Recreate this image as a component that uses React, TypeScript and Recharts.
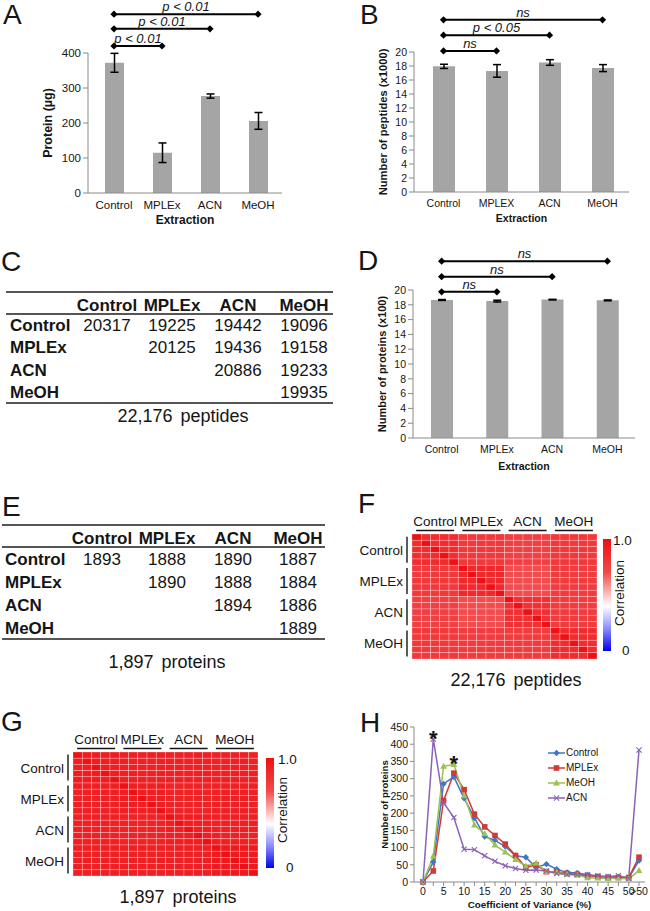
import React from 'react';
import {
  BarChart, Bar, ErrorBar, XAxis, YAxis, ReferenceLine, ReferenceDot,
  LineChart, Line, Legend, ScatterChart, Scatter,
} from 'recharts';

const FONT = '"Liberation Sans", Arial, Helvetica, sans-serif';
const INK = '#151515';
const AXIS = '#8a8a8a';
const BAR = '#a5a5a5';

// A: protein yield per extraction (ug)
const catsA = ['Control', 'MPLEx', 'ACN', 'MeOH'];
const proteinUg = [372, 115, 277, 206];
const proteinUgSd = [27, 28, 6, 24];

// B: identified peptides (x1000)
const catsB = ['Control', 'MPLEX', 'ACN', 'MeOH'];
const peptidesK = [17.95, 17.3, 18.5, 17.7];
const peptidesKSd = [0.3, 0.9, 0.4, 0.5];

// D: identified proteins (x100)
const catsD = ['Control', 'MPLEx', 'ACN', 'MeOH'];
const proteinsH = [18.65, 18.5, 18.7, 18.6];
const proteinsHSd = [0.06, 0.12, 0.04, 0.06];

// significance brackets, all start at Control
const sigA = [
  { to: 'MPLEx', level: 420, text: 'p < 0.01' },
  { to: 'ACN', level: 469, text: 'p < 0.01' },
  { to: 'MeOH', level: 511, text: 'p < 0.01' },
];
const sigB = [
  { to: 'MPLEX', level: 20.15, text: 'ns' },
  { to: 'ACN', level: 22.4, text: 'p < 0.05' },
  { to: 'MeOH', level: 24.6, text: 'ns' },
];
const sigD = [
  { to: 'MPLEx', level: 19.75, text: 'ns' },
  { to: 'ACN', level: 21.8, text: 'ns' },
  { to: 'MeOH', level: 23.9, text: 'ns' },
];

// C / E: pairwise overlap tables
const tableCols = ['Control', 'MPLEx', 'ACN', 'MeOH'];
const peptideOverlap = [
  [20317, 19225, 19442, 19096],
  [null, 20125, 19436, 19158],
  [null, null, 20886, 19233],
  [null, null, null, 19935],
];
const proteinOverlap = [
  [1893, 1888, 1890, 1887],
  [null, 1890, 1888, 1884],
  [null, null, 1894, 1886],
  [null, null, null, 1889],
];

// F / G: correlation between extraction groups (5 replicates each)
const groups = ['Control', 'MPLEx', 'ACN', 'MeOH'];
const replicates = 5;
const peptideCorr = [
  [0.93, 0.9, 0.88, 0.9],
  [0.9, 0.94, 0.85, 0.89],
  [0.88, 0.85, 0.92, 0.89],
  [0.9, 0.89, 0.89, 0.93],
];
const proteinCorr = [
  [0.97, 0.96, 0.96, 0.96],
  [0.96, 0.965, 0.955, 0.96],
  [0.96, 0.955, 0.965, 0.96],
  [0.96, 0.96, 0.96, 0.975],
];

// H: coefficient of variance distribution
const cvBins = ['0', '2.5', '5', '7.5', '10', '12.5', '15', '17.5', '20', '22.5', '25', '27.5',
  '30', '32.5', '35', '37.5', '40', '42.5', '45', '47.5', '50', '>50'];
const cvTickLabels = ['0', '5', '10', '15', '20', '25', '30', '35', '40', '45', '50', '>50'];
const cvControl = [0, 58, 285, 305, 243, 186, 132, 121, 103, 76, 72, 42, 52, 37, 28, 26, 21, 15, 15, 15, 12, 62];
const cvMPLEx = [0, 32, 236, 316, 268, 197, 160, 135, 110, 77, 42, 50, 30, 30, 25, 22, 18, 16, 13, 13, 13, 72];
const cvMeOH = [0, 75, 336, 341, 250, 165, 140, 107, 87, 65, 46, 55, 30, 28, 22, 20, 12, 11, 10, 11, 9, 33];
const cvACN = [0, 415, 230, 187, 95, 94, 76, 60, 47, 39, 34, 35, 32, 25, 22, 22, 21, 18, 16, 18, 11, 383];

const cvSeries = [
  { key: 'Control', color: '#3b78c6', marker: 'diamond' },
  { key: 'MPLEx', color: '#cf3b37', marker: 'square' },
  { key: 'MeOH', color: '#9bc252', marker: 'triangle' },
  { key: 'ACN', color: '#8a62b6', marker: 'x' },
];

const cvData = cvBins.map((bin, i) => ({
  bin, Control: cvControl[i], MPLEx: cvMPLEx[i], MeOH: cvMeOH[i], ACN: cvACN[i],
}));

function Txt({ x, y, size, bold, italic, anchor = 'start', spacing, children }: any) {
  const tx = anchor === 'middle' ? '-50%' : anchor === 'end' ? '-100%' : '0';
  return (
    <div
      style={{
        position: 'absolute', left: x, top: y, transform: `translate(${tx}, -50%)`,
        fontSize: size, fontWeight: bold ? 700 : 400, fontStyle: italic ? 'italic' : 'normal',
        lineHeight: 1, whiteSpace: 'nowrap', wordSpacing: spacing,
      }}
    >
      {children}
    </div>
  );
}

const sigShape = (text: string) => (p: any) => {
  const { x1, x2, y1 } = p;
  const d = 3.6;
  const dia = (x: number) => `${x - d},${y1} ${x},${y1 - d} ${x + d},${y1} ${x},${y1 + d}`;
  return (
    <g>
      <line x1={x1} x2={x2} y1={y1} y2={y1} stroke="#000" strokeWidth={2} />
      <polygon points={dia(x1)} fill="#000" />
      <polygon points={dia(x2)} fill="#000" />
      <text x={(x1 + x2) / 2} y={y1 - 3} textAnchor="middle" fontStyle="italic" fontSize={13} fill={INK}>
        {text}
      </text>
    </g>
  );
};

function BarPanel(props: any) {
  const { left, top, width, height, margin, cats, values, errs, domain, ticks, yLabel, yWidth,
    padLeft, barSize, xHeight, xLabelOffset, tickSize, yLabelSize, xLabelSize, sig } = props;
  const data = cats.map((c: string, i: number) => ({ name: c, value: values[i], err: errs[i] }));
  return (
    <div style={{ position: 'absolute', left, top }}>
      <BarChart width={width} height={height} data={data} margin={margin}>
        <XAxis
          dataKey="name" stroke={AXIS} tickLine={false} height={xHeight}
          padding={{ left: padLeft, right: 0 }}
          tick={{ fill: INK, fontSize: tickSize }}
          label={{ value: 'Extraction', position: 'insideBottom', offset: xLabelOffset, fontSize: xLabelSize, fontWeight: 700, fill: INK }}
        />
        <YAxis
          domain={domain} ticks={ticks} width={yWidth} stroke={AXIS} tickSize={5} interval={0}
          tick={{ fill: INK, fontSize: tickSize }}
          label={{ value: yLabel, angle: -90, position: 'center', fontSize: yLabelSize, fontWeight: 700, fill: INK }}
        />
        <Bar dataKey="value" fill={BAR} barSize={barSize} isAnimationActive={false}>
          <ErrorBar dataKey="err" width={4} stroke="#000" strokeWidth={1.5} direction="y" />
        </Bar>
        {sig.map((s: any, i: number) => (
          <ReferenceLine
            key={i}
            segment={[{ x: cats[0], y: s.level }, { x: s.to, y: s.level }]}
            ifOverflow="visible"
            shape={sigShape(s.text)}
          />
        ))}
      </BarChart>
    </div>
  );
}

function OverlapTable(props: any) {
  const { x, y, width, values, labelX, colX, headH, rowH, size } = props;
  const rule = (t: number, k: string) => (
    <div key={k} style={{ position: 'absolute', left: x, top: y + t - 0.75, width, height: 1.5, background: '#555' }} />
  );
  const bottom = headH + rowH * values.length;
  return (
    <>
      {rule(0, 'top')}
      {rule(headH, 'mid')}
      {rule(bottom, 'bot')}
      {tableCols.map((c, j) => (
        <Txt key={c} x={x + colX[j]} y={y + headH / 2 + 1.5} size={size} bold anchor="middle">{c}</Txt>
      ))}
      {values.map((row: (number | null)[], i: number) => (
        <React.Fragment key={i}>
          <Txt x={x + labelX} y={y + headH + rowH * (i + 0.5)} size={size} bold>{tableCols[i]}</Txt>
          {row.map((v, j) => v === null ? null : (
            <Txt key={j} x={x + colX[j]} y={y + headH + rowH * (i + 0.5)} size={size} anchor="middle">{v}</Txt>
          ))}
        </React.Fragment>
      ))}
    </>
  );
}

function corrColor(v: number) {
  const lo = 0.4;
  if (v >= lo) {
    const t = Math.min(1, (v - lo) / (1 - lo));
    const r = Math.round(255 + (238 - 255) * t);
    const g = Math.round(255 + (16 - 255) * t);
    const b = Math.round(255 + (20 - 255) * t);
    return `rgb(${r},${g},${b})`;
  }
  const t = Math.max(0, (lo - v) / lo);
  const c = Math.round(255 * (1 - t));
  return `rgb(${c},${c},255)`;
}

function buildCells(block: number[][]) {
  const n = groups.length * replicates;
  const cells: { x: number; y: number; v: number }[] = [];
  for (let r = 0; r < n; r++) {
    for (let c = 0; c < n; c++) {
      const v = r === c ? 1 : block[Math.floor(r / replicates)][Math.floor(c / replicates)];
      cells.push({ x: c + 0.5, y: r + 0.5, v });
    }
  }
  return cells;
}

const groupTicks = groups.map((_, g) => g * replicates + replicates / 2);

const HeatTopTick = (p: any) => {
  const g = Math.floor(p.payload.value / replicates);
  return (
    <g>
      <text x={p.x} y={p.y - 8} textAnchor="middle" fontSize={13.5} fill={INK}>{groups[g]}</text>
      <line x1={p.x - 19} x2={p.x + 19} y1={p.y - 3.5} y2={p.y - 3.5} stroke={INK} strokeWidth={1.4} />
    </g>
  );
};

const HeatLeftTick = (p: any) => {
  const g = Math.floor(p.payload.value / replicates);
  return (
    <g>
      <text x={p.x - 9} y={p.y + 5} textAnchor="end" fontSize={13.5} fill={INK}>{groups[g]}</text>
      <line x1={p.x - 5} x2={p.x - 5} y1={p.y - 13} y2={p.y + 13} stroke={INK} strokeWidth={1.4} />
    </g>
  );
};

function Heatmap(props: any) {
  const { left, top, width, height, margin, block } = props;
  const cells = buildCells(block);
  const n = groups.length * replicates;
  const plotW = width - margin.left - margin.right - 70;
  const plotH = height - margin.top - margin.bottom - 20;
  const cw = plotW / n;
  const ch = plotH / n;
  return (
    <div style={{ position: 'absolute', left, top }}>
      <ScatterChart width={width} height={height} margin={margin}>
        <XAxis
          type="number" dataKey="x" domain={[0, n]} ticks={groupTicks} orientation="top" height={20}
          axisLine={false} tickLine={false} tickSize={0} tickMargin={0} interval={0} tick={HeatTopTick}
        />
        <YAxis
          type="number" dataKey="y" domain={[0, n]} ticks={groupTicks} reversed width={70}
          axisLine={false} tickLine={false} tickSize={0} tickMargin={0} interval={0} tick={HeatLeftTick}
        />
        <Scatter
          data={cells}
          isAnimationActive={false}
          shape={(p: any) => (
            <rect
              x={p.cx - cw / 2} y={p.cy - ch / 2} width={cw} height={ch}
              fill={corrColor(p.payload.v)} stroke="rgba(255,255,255,0.45)" strokeWidth={0.6}
            />
          )}
        />
      </ScatterChart>
    </div>
  );
}

function ColorBar({ x, y, h, labX, zeroX, corrX, corrY }: any) {
  return (
    <>
      <div
        style={{
          position: 'absolute', left: x, top: y, width: 8, height: h,
          background: 'linear-gradient(to bottom, #ee1010 0%, #f24a4a 30%, #ffffff 60%, #8c8cff 80%, #0000ee 100%)',
        }}
      />
      <Txt x={labX} y={y + 2} size={13.5}>1.0</Txt>
      <Txt x={zeroX} y={y + h} size={13.5}>0</Txt>
      <div
        style={{
          position: 'absolute', left: corrX, top: corrY, transform: 'translate(-50%, -50%) rotate(-90deg)',
          fontSize: 13.5, lineHeight: 1, whiteSpace: 'nowrap',
        }}
      >
        Correlation
      </div>
    </>
  );
}

function Marker({ kind, cx, cy, color }: any) {
  if (cx == null || cy == null) return null;
  if (kind === 'diamond') {
    const d = 3.2;
    return <polygon points={`${cx - d},${cy} ${cx},${cy - d} ${cx + d},${cy} ${cx},${cy + d}`} fill={color} />;
  }
  if (kind === 'square') return <rect x={cx - 2.8} y={cy - 2.8} width={5.6} height={5.6} fill={color} />;
  if (kind === 'triangle') {
    return <polygon points={`${cx},${cy - 3.6} ${cx + 3.4},${cy + 2.4} ${cx - 3.4},${cy + 2.4}`} fill={color} />;
  }
  return (
    <g stroke={color} strokeWidth={1.1}>
      <line x1={cx - 2.6} y1={cy - 2.6} x2={cx + 2.6} y2={cy + 2.6} />
      <line x1={cx - 2.6} y1={cy + 2.6} x2={cx + 2.6} y2={cy - 2.6} />
    </g>
  );
}

const CvLegend = () => (
  <div style={{ fontFamily: FONT, fontSize: 10, color: INK }}>
    {cvSeries.map((s) => (
      <div key={s.key} style={{ display: 'flex', alignItems: 'center', height: 15 }}>
        <svg width={17} height={10}>
          <line x1={0} x2={17} y1={5} y2={5} stroke={s.color} strokeWidth={1.5} />
          <Marker kind={s.marker} cx={8.5} cy={5} color={s.color} />
        </svg>
        <span style={{ marginLeft: 1 }}>{s.key}</span>
      </div>
    ))}
  </div>
);

function CvChart() {
  return (
    <div style={{ position: 'absolute', left: 325, top: 700 }}>
      <LineChart width={325} height={211} data={cvData} margin={{ top: 27, right: 5, bottom: 1, left: 31 }}>
        <XAxis
          dataKey="bin" stroke={AXIS} height={28} interval={0} tickSize={4}
          padding={{ left: 9, right: 6 }}
          tick={{ fill: INK, fontSize: 10.5 }}
          tickFormatter={(v: string) => (cvTickLabels.includes(v) ? v : '')}
          label={{ value: 'Coefficient of Variance (%)', position: 'insideBottom', offset: 2, fontSize: 9.8, fontWeight: 700, fill: INK }}
        />
        <YAxis
          domain={[0, 450]} ticks={[0, 50, 100, 150, 200, 250, 300, 350, 400, 450]} width={58} interval={0}
          stroke={AXIS} tickSize={4} tick={{ fill: INK, fontSize: 10.5 }}
          label={{ value: 'Number of proteins', angle: -90, position: 'center', fontSize: 9.6, fontWeight: 700, fill: INK }}
        />
        {cvSeries.map((s) => (
          <Line
            key={s.key} dataKey={s.key} stroke={s.color} strokeWidth={1.5} isAnimationActive={false}
            dot={(p: any) => <Marker key={`${s.key}-${p.index}`} kind={s.marker} cx={p.cx} cy={p.cy} color={s.color} />}
            activeDot={false}
          />
        ))}
        <ReferenceDot x="2.5" y={418} r={0} fill="none" stroke="none" ifOverflow="visible"
          label={{ value: '*', position: 'center', fontSize: 22, fontWeight: 700, fill: INK }} />
        <ReferenceDot x="7.5" y={346} r={0} fill="none" stroke="none" ifOverflow="visible"
          label={{ value: '*', position: 'center', fontSize: 22, fontWeight: 700, fill: INK }} />
        <Legend
          layout="vertical" align="center" verticalAlign="middle"
          wrapperStyle={{ left: 223, top: 45, width: 80 }}
          content={() => <CvLegend />}
        />
      </LineChart>
    </div>
  );
}

const panelLetters = [
  { t: 'A', x: 3, y: 14.5 }, { t: 'B', x: 360, y: 14.5 },
  { t: 'C', x: 1, y: 262 }, { t: 'D', x: 358, y: 261 },
  { t: 'E', x: 2, y: 507 }, { t: 'F', x: 358, y: 504 },
  { t: 'G', x: 1, y: 721.5 }, { t: 'H', x: 360, y: 722.5 },
];

export default function App() {
  return (
    <div
      style={{
        position: 'absolute', left: 0, top: 0, width: 650, height: 911, background: '#fff',
        fontFamily: FONT, color: INK, overflow: 'hidden',
      }}
    >
      {panelLetters.map((l) => (
        <Txt key={l.t} x={l.x} y={l.y} size={28}>{l.t}</Txt>
      ))}

      <BarPanel
        left={0} top={0} width={300} height={228} margin={{ top: 53, right: 18, bottom: 2, left: 8 }}
        cats={catsA} values={proteinUg} errs={proteinUgSd} domain={[0, 400]} ticks={[0, 100, 200, 300, 400]}
        yLabel="Protein (µg)" yWidth={80} padLeft={2} barSize={19} xHeight={33} xLabelOffset={2}
        tickSize={11.5} yLabelSize={12.5} xLabelSize={12} sig={sigA}
      />
      <BarPanel
        left={325} top={0} width={320} height={228} margin={{ top: 52, right: 16, bottom: 2, left: 27 }}
        cats={catsB} values={peptidesK} errs={peptidesKSd} domain={[0, 20]}
        ticks={[0, 2, 4, 6, 8, 10, 12, 14, 16, 18, 20]}
        yLabel="Number of peptides (x1000)" yWidth={62} padLeft={3} barSize={22} xHeight={34} xLabelOffset={4}
        tickSize={10.5} yLabelSize={11.2} xLabelSize={10.5} sig={sigB}
      />
      <BarPanel
        left={325} top={240} width={320} height={234} margin={{ top: 50, right: 10, bottom: 2, left: 26 }}
        cats={catsD} values={proteinsH} errs={proteinsHSd} domain={[0, 20]}
        ticks={[0, 2, 4, 6, 8, 10, 12, 14, 16, 18, 20]}
        yLabel="Number of proteins (x100)" yWidth={62} padLeft={1} barSize={22} xHeight={34} xLabelOffset={2}
        tickSize={10.5} yLabelSize={11} xLabelSize={10.5} sig={sigD}
      />

      <OverlapTable x={6} y={292} width={327} values={peptideOverlap} labelX={4}
        colX={[101, 166, 232, 298]} headH={22} rowH={22.25} size={17} />
      <Txt x={183} y={416} size={18} anchor="middle" spacing={3}>22,176 peptides</Txt>

      <OverlapTable x={2} y={525} width={323} values={proteinOverlap} labelX={3}
        colX={[100, 165, 231, 296]} headH={22} rowH={23} size={17} />
      <Txt x={167} y={662} size={18} anchor="middle" spacing={3}>1,897 proteins</Txt>

      <Heatmap left={340} top={505} width={265} height={160}
        margin={{ top: 9, right: 8, bottom: 6, left: 2 }} block={peptideCorr} />
      <ColorBar x={603} y={539} h={112} labX={613} zeroX={622} corrX={620} corrY={593} />
      <Txt x={516} y={680} size={18} anchor="middle" spacing={3}>22,176 peptides</Txt>

      <Heatmap left={0} top={723} width={265} height={159}
        margin={{ top: 9, right: 7, bottom: 6, left: 3 }} block={proteinCorr} />
      <ColorBar x={266} y={758} h={110} labX={278} zeroX={286} corrX={283} corrY={810} />
      <Txt x={178} y={897} size={18} anchor="middle" spacing={3}>1,897 proteins</Txt>

      <CvChart />
    </div>
  );
}
